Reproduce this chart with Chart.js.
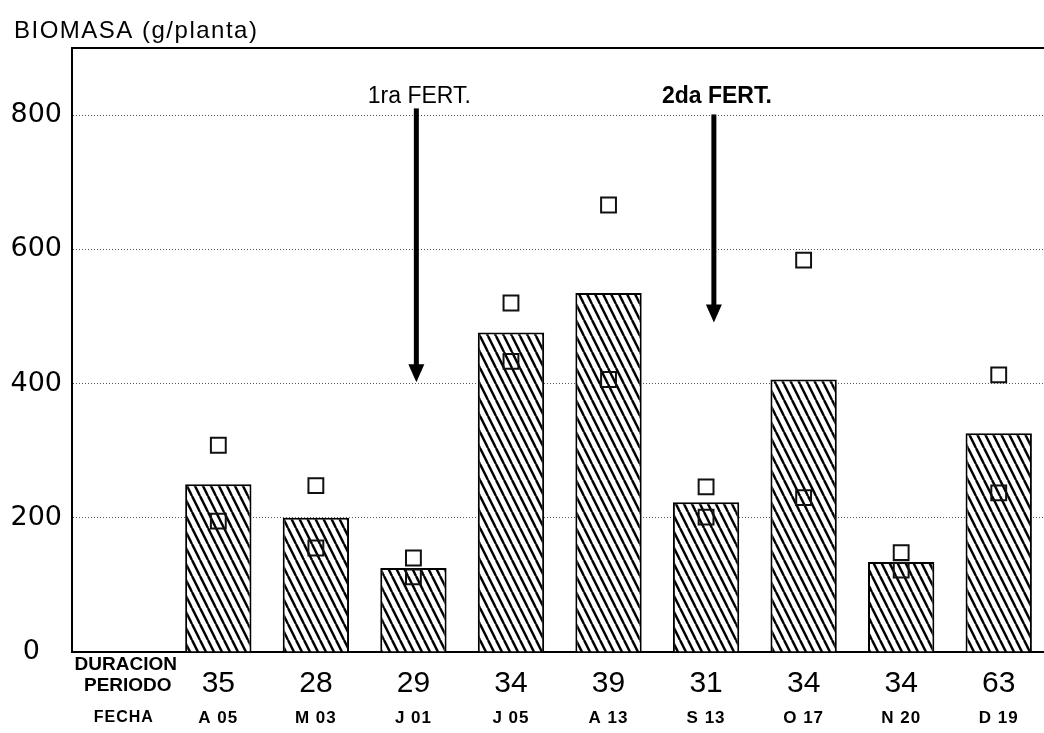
<!DOCTYPE html>
<html>
<head>
<meta charset="utf-8">
<script src="https://cdn.jsdelivr.net/npm/chart.js@4.4.1/dist/chart.umd.min.js"></script>
<style>
  html, body { margin: 0; padding: 0; background: #fff; overflow: hidden; }
  #wrap { position: absolute; left: 0; top: 0; }
</style>
</head>
<body>
<div id="wrap"><canvas id="myChart" width="1060" height="733"></canvas></div>
<script>
// values
const fecha = ["A 05", "M 03", "J 01", "J 05", "A 13", "S 13", "O 17", "N 20", "D 19"];
const duracion = [35, 28, 29, 34, 39, 31, 34, 34, 63];
const biomasa = [250, 200, 125, 476, 535, 223, 406, 134, 326];
const biomasaMax = [308, 248, 140, 520, 666, 246, 584, 148, 413];
const biomasaMin = [195, 155, 112, 433, 406, 201, 230, 122, 237];
const yTicks = [0, 200, 400, 600, 800];

// fertilization arrows: slot index on the x scale, top and tip in y units
const fertLabels = ["1ra FERT.", "2da FERT."];
const fertSlot = [3.03, 6.08];
const fertTop = [810, 801];
const fertTip = [402, 491];

const FONT = "'Liberation Sans', Arial, sans-serif";
const WIDE = "'DejaVu Sans', Verdana, sans-serif";

// first slot is empty (it carries the row captions)
const labels = [""].concat(fecha);
const pad = (arr) => [null].concat(arr);

function hatch() {
  const c = document.createElement("canvas");
  c.width = 8;
  c.height = 16;
  const g = c.getContext("2d");
  g.fillStyle = "#fff";
  g.fillRect(0, 0, 8, 16);
  g.strokeStyle = "#000";
  g.lineWidth = 2.5;
  for (let k = -1; k <= 1; k++) {
    g.beginPath();
    g.moveTo(k * 8, 0);
    g.lineTo(k * 8 + 8, 16);
    g.stroke();
  }
  return g.createPattern(c, "repeat");
}

const extras = {
  id: "extras",
  afterDraw(chart) {
    const ctx = chart.ctx;
    const area = chart.chartArea;
    const x = chart.scales.x;
    const y = chart.scales.y;
    ctx.save();

    // frame top line
    ctx.strokeStyle = "#000";
    ctx.lineWidth = 2;
    ctx.beginPath();
    ctx.moveTo(area.left, area.top);
    ctx.lineTo(area.right, area.top);
    ctx.stroke();

    // title
    ctx.fillStyle = "#000";
    ctx.textAlign = "left";
    ctx.textBaseline = "middle";
    ctx.font = "24px " + FONT;
    ctx.letterSpacing = "1.5px";
    ctx.fillText("BIOMASA (g/planta)", 14, 31);
    ctx.letterSpacing = "0px";

    // arrows
    fertLabels.forEach((lab, i) => {
      const px = x.getPixelForValue(fertSlot[i]);
      const top = y.getPixelForValue(fertTop[i]);
      const tip = y.getPixelForValue(fertTip[i]);
      ctx.fillStyle = "#000";
      ctx.fillRect(px - 2.5, top, 5, tip - top - 14);
      ctx.beginPath();
      ctx.moveTo(px - 8, tip - 18);
      ctx.lineTo(px + 8, tip - 18);
      ctx.lineTo(px, tip);
      ctx.closePath();
      ctx.fill();
      ctx.textAlign = "center";
      ctx.font = (i === 1 ? "bold " : "") + "23px " + FONT;
      ctx.fillText(lab, px + 3, 97);
    });

    // bottom rows
    const x0 = x.getPixelForValue(0);
    ctx.textAlign = "center";
    ctx.font = "bold 19px " + FONT;
    ctx.fillText("DURACION", x0 + 5, 665);
    ctx.fillText("PERIODO", x0 + 7, 686);
    ctx.font = "bold 16px " + FONT;
    ctx.letterSpacing = "1px";
    ctx.fillText("FECHA", x0 + 3, 718);
    fecha.forEach((f, i) => {
      const px = x.getPixelForValue(i + 1);
      ctx.font = "bold 17px " + FONT;
      ctx.letterSpacing = "1px";
      ctx.fillText(f, px, 718);
      ctx.letterSpacing = "0px";
      ctx.font = "30px " + FONT;
      ctx.fillText(String(duracion[i]), px, 684);
    });
    ctx.restore();
  }
};

const ctx = document.getElementById("myChart").getContext("2d");
const chart = new Chart(ctx, {
  type: "bar",
  data: {
    labels: labels,
    datasets: [
      {
        label: "Biomasa",
        data: pad(biomasa),
        backgroundColor: hatch(),
        borderColor: "#000",
        borderWidth: 2,
        barPercentage: 0.68,
        categoryPercentage: 1,
        order: 2
      },
      {
        type: "line",
        label: "max",
        data: pad(biomasaMax),
        showLine: false,
        pointStyle: "rect",
        pointRadius: 10.5,
        pointBorderWidth: 2,
        pointBorderColor: "#111",
        pointBackgroundColor: "rgba(0,0,0,0)",
        order: 1
      },
      {
        type: "line",
        label: "min",
        data: pad(biomasaMin),
        showLine: false,
        pointStyle: "rect",
        pointRadius: 10.5,
        pointBorderWidth: 2,
        pointBorderColor: "#111",
        pointBackgroundColor: "rgba(0,0,0,0)",
        order: 1
      }
    ]
  },
  options: {
    responsive: false,
    animation: false,
    devicePixelRatio: 1,
    layout: { padding: { left: 0, top: 48, right: 8, bottom: 73 } },
    plugins: {
      legend: { display: false },
      tooltip: { enabled: false }
    },
    scales: {
      x: {
        ticks: { display: false },
        grid: { display: false },
        border: { display: true, color: "#000", width: 2 }
      },
      y: {
        min: 0,
        max: 900,
        afterFit(scale) { scale.width = 72; },
        afterBuildTicks(scale) {
          scale.ticks = yTicks.map((v) => ({ value: v }));
        },
        ticks: {
          padding: 10,
          color: "#000",
          font: { family: WIDE, size: 27 },
          callback: (v) => (v === 0 ? "0\u2002 " : String(v))
        },
        grid: {
          drawTicks: false,
          lineWidth: 1,
          color: (c) => (c.tick && c.tick.value === 0 ? "rgba(0,0,0,0)" : "#555")
        },
        border: { display: true, color: "#000", width: 2, dash: [1, 2] }
      }
    }
  },
  plugins: [extras]
});
</script>
</body>
</html>
